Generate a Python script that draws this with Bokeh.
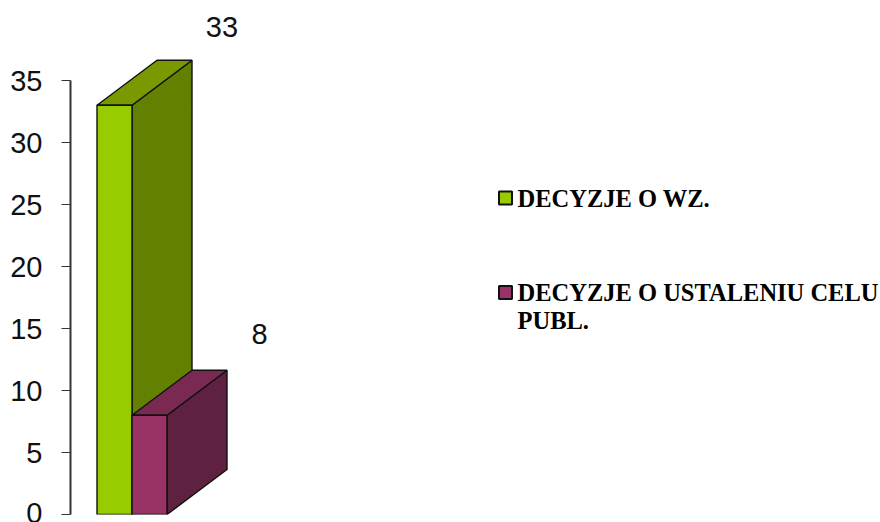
from bokeh.plotting import figure
from bokeh.embed import file_html
from bokeh.resources import INLINE
from bokeh.core.properties import value
from bokeh.models import Range1d, FixedTicker

series = ["DECYZJE O WZ.", "DECYZJE O USTALENIU CELU\nPUBL."]
values = [33, 8]
y_ticks = [0, 5, 10, 15, 20, 25, 30, 35]
front = ["#99CC00", "#993366"]
top = ["#7A9900", "#7A2952"]
side = ["#638000", "#5F2140"]

W, H = 880, 522
PX_X = 35.0
PX_Y = 12.4
X0 = 96.5
Y0 = 514.0
LEFT = 70
DX = 60 / PX_X
DY = 45 / PX_Y
label_dx = [90, 92.5]
label_dy = [78, 81]

def sx(px):
    return (px - X0) / PX_X

def sy(px):
    return (Y0 - px) / PX_Y

p = figure(width=W, height=H, output_backend="svg", toolbar_location=None,
           x_range=Range1d(sx(LEFT), sx(880)), y_range=Range1d(sy(514), sy(0)),
           x_axis_location=None, min_border_left=LEFT, min_border_right=0,
           min_border_top=0, min_border_bottom=8)
p.outline_line_color = None
p.grid.visible = False

ax = p.yaxis[0]
ax.ticker = FixedTicker(ticks=y_ticks)
ax.bounds = (0, 35)
ax.axis_line_color = "#333333"
ax.axis_line_width = 2
ax.major_tick_line_color = "#333333"
ax.major_tick_line_width = 1
ax.major_tick_in = 0
ax.major_tick_out = 9
ax.minor_tick_line_color = None
ax.major_label_standoff = 19
ax.major_label_text_font = "Liberation Sans"
ax.major_label_text_font_size = "29px"
ax.major_label_text_color = "#111111"

for i, v in enumerate(values):
    l, r = i, i + 1
    p.patch([r, r + DX, r + DX, r], [0, DY, v + DY, v], fill_color=side[i],
            line_color="#111111", line_width=1.4)
    p.patch([l, r, r + DX, l + DX], [v, v, v + DY, v + DY], fill_color=top[i],
            line_color="#111111", line_width=1.4)
    p.patch([l, r, r, l], [0, 0, v, v], fill_color=front[i],
            line_color="#111111", line_width=1.4)
    p.text([r + label_dx[i] / PX_X], [v + label_dy[i] / PX_Y], text=[str(v)],
           text_font=value("Liberation Sans"), text_font_size="29px",
           text_color="#111111", text_align="center", text_baseline="middle")

legend_swatch_y = [197.5, 292]
legend_text_y = [184, 278]
for i, name in enumerate(series):
    p.rect([sx(505)], [sy(legend_swatch_y[i])], width=13 / PX_X, height=13 / PX_Y,
           fill_color=front[i], line_color="#111111", line_width=2)
    p.text([sx(517)], [sy(legend_text_y[i])], text=[name],
           text_font=value("Liberation Serif"), text_font_style="bold",
           text_font_size="24.5px", text_color="#000000", text_align="left",
           text_baseline="top", text_line_height=1.04)

open("out.html", "w").write(file_html(p, INLINE))
